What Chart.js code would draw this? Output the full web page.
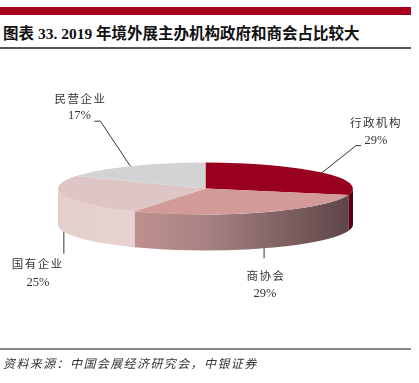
<!DOCTYPE html>
<html>
<head>
<meta charset="utf-8">
<script src="https://cdn.jsdelivr.net/npm/chart.js@4"></script>
<style>
  body { margin: 0; background: #fff; }
  #wrap { position: relative; width: 419px; height: 383px; }
  #redbar { position: absolute; left: 0; top: 7px; width: 411px; height: 8px; background: #A8001F; }
  #title { position: absolute; left: 3px; top: 21px; font: bold 15.5px "Liberation Serif", "Noto Sans CJK SC", serif; color: #111; white-space: nowrap; }
  #topline { position: absolute; left: 0; top: 47px; width: 411px; height: 2px; background: #555; }
  #botline { position: absolute; left: 0; top: 348px; width: 411px; height: 2px; background: #888; }
  #source { position: absolute; left: 3px; top: 354px; font: italic 12px "Noto Sans CJK SC", sans-serif; letter-spacing: 1.4px; color: #333; white-space: nowrap; }
</style>
</head>
<body>
<div id="wrap">
  <div id="redbar"></div>
  <div id="title">图表 33. 2019 年境外展主办机构政府和商会占比较大</div>
  <div id="topline"></div>
  <div style="position:absolute;left:0;top:0;width:419px;height:383px;">
    <canvas id="myChart" width="419" height="383"></canvas>
  </div>
  <div id="botline"></div>
  <div id="source">资料来源：中国会展经济研究会，中银证券</div>
</div>
<script>
const labels = ['行政机构', '商协会', '国有企业', '民营企业'];
const shares = [29, 29, 25, 17];

const topColors = ['#99001F', '#D29A98', '#DDC6C5', '#D3D3D3'];
// side shading, left to right across the pie
const sideColors = [
  ['#5A0012', '#5A0012'],
  ['#D6A09E', '#A88283', '#5C4446'],
  ['#E4CDCD', '#ECD6D6', '#E6CDCD'],
  ['#BBBBBB', '#BBBBBB']
];

const tilt = 26 / 148;   // ellipse squash
const depth = 36;        // height of the pie side

// where each leader line bends / where the text sits, relative to the rim point
const labelLayout = [
  { line: [[34, -27], [39, -27]], name: [54, -50], pct: [54, -32] },
  { line: [[0, 10]], name: [2, 27], pct: [1, 45] },
  { line: [[0, 22]], name: [-26, 32], pct: [-26, 51] },
  { line: [[-30, -45], [-36, -45]], name: [-50, -68], pct: [-51, -50] }
];

function arcProps(arc) {
  return arc.getProps(['x', 'y', 'startAngle', 'endAngle', 'outerRadius'], true);
}

const pie3d = {
  id: 'pie3d',
  beforeDatasetsDraw(chart) {
    const ctx = chart.ctx;
    const arcs = chart.getDatasetMeta(0).data;
    arcs.forEach((arc, i) => {
      const p = arcProps(arc);
      const a0 = Math.max(p.startAngle, 0);
      const a1 = Math.min(p.endAngle, Math.PI);
      if (a1 <= a0) return;
      const r = p.outerRadius;
      const g = ctx.createLinearGradient(p.x - r, 0, p.x + r, 0);
      const stops = sideColors[i];
      stops.forEach((c, k) => g.addColorStop(k / (stops.length - 1), c));
      ctx.beginPath();
      ctx.ellipse(p.x, p.y, r, r * tilt, 0, a0, a1);
      ctx.ellipse(p.x, p.y + depth, r, r * tilt, 0, a1, a0, true);
      ctx.closePath();
      ctx.fillStyle = g;
      ctx.fill();
    });
    const cy = arcs[0].y;
    ctx.save();
    ctx.translate(0, cy);
    ctx.scale(1, tilt);
    ctx.translate(0, -cy);
  },
  afterDatasetsDraw(chart) {
    chart.ctx.restore();
  },
  afterDraw(chart) {
    const ctx = chart.ctx;
    const arcs = chart.getDatasetMeta(0).data;
    ctx.save();
    arcs.forEach((arc, i) => {
      const p = arcProps(arc);
      const mid = (p.startAngle + p.endAngle) / 2;
      const ax = p.x + p.outerRadius * Math.cos(mid);
      let ay = p.y + p.outerRadius * tilt * Math.sin(mid);
      if (Math.sin(mid) > 0) ay += depth;
      const lay = labelLayout[i];
      ctx.strokeStyle = '#333';
      ctx.lineWidth = 1;
      ctx.beginPath();
      ctx.moveTo(ax, ay);
      lay.line.forEach(pt => ctx.lineTo(ax + pt[0], ay + pt[1]));
      ctx.stroke();
      ctx.fillStyle = '#333';
      ctx.textAlign = 'center';
      ctx.textBaseline = 'middle';
      ctx.font = '11.5px "Noto Sans CJK SC", sans-serif';
      ctx.letterSpacing = '1.5px';
      ctx.fillText(labels[i], ax + lay.name[0], ay + lay.name[1]);
      ctx.font = '12.5px "Liberation Serif", serif';
      ctx.letterSpacing = '0px';
      ctx.fillText(shares[i] + '%', ax + lay.pct[0], ay + lay.pct[1]);
    });
    ctx.restore();
  }
};

const ctx = document.getElementById('myChart').getContext('2d');
new Chart(ctx, {
  type: 'pie',
  data: {
    labels: labels,
    datasets: [{
      data: shares,
      backgroundColor: topColors,
      borderWidth: 0
    }]
  },
  options: {
    responsive: false,
    animation: false,
    layout: {
      padding: { left: 57, right: 65, top: 41, bottom: 47 }
    },
    plugins: {
      legend: { display: false },
      tooltip: { enabled: false }
    }
  },
  plugins: [pie3d]
});
</script>
</body>
</html>
